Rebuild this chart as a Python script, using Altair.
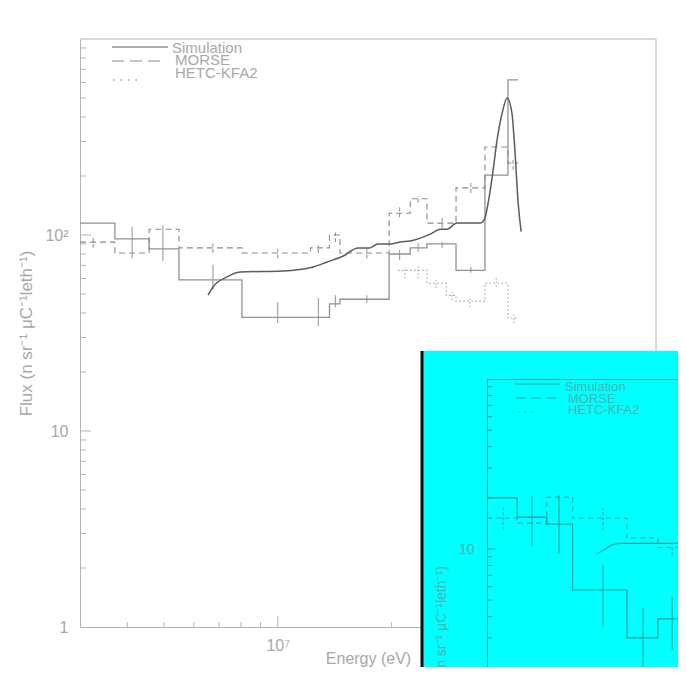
import altair as alt
import pandas as pd

# ---------------- main panel (energy in eV, flux) ----------------
sim_edges = [3.0e6, 3.71e6, 4.57e6, 5.48e6, 8.04e6, 1.37e7, 1.46e7, 1.97e7,
             2.24e7, 2.48e7, 2.96e7, 3.53e7, 4.06e7, 4.32e7]
sim_flux = [115, 95.5, 85, 59, 38, 44.5, 47, 80, 86, 90, 66, 202, 618]

morse_edges = [3.0e6, 3.71e6, 4.57e6, 5.48e6, 8.04e6, 1.22e7, 1.37e7, 1.46e7,
               1.97e7, 2.24e7, 2.48e7, 2.96e7, 3.53e7, 4.06e7, 4.32e7]
morse_flux = [92, 81, 107, 86, 81, 86, 100, 81, 129, 153, 115, 174, 281, 233]

hetc_edges = [2.08e7, 2.48e7, 2.79e7, 2.96e7, 3.53e7, 4.06e7, 4.32e7]
hetc_flux = [66, 56.7, 49.2, 46, 56.7, 37.7]

curve_e = [6.54e6, 6.74e6, 7.34e6, 7.95e6, 1.03e7, 1.24e7, 1.35e7, 1.49e7,
           1.63e7, 1.75e7, 1.84e7, 1.98e7, 2.11e7, 2.24e7, 2.53e7, 2.69e7,
           2.80e7, 2.98e7, 3.43e7, 3.53e7, 3.60e7, 3.69e7, 3.80e7, 3.92e7,
           4.04e7, 4.16e7, 4.24e7, 4.32e7, 4.40e7]
curve_flux = [49.4, 54.3, 61.1, 64.7, 65.5, 68.7, 72.8, 78.1, 85.9, 85.9, 90,
              90, 92.1, 93.2, 101, 107, 107, 115, 115, 122, 146, 198, 305, 419,
              500, 419, 262, 146, 104]

sim_err_e = [4.12e6, 4.97e6, 6.74e6, 1.0e7, 1.28e7, 1.42e7, 1.72e7, 2.1e7,
             2.35e7, 2.72e7, 3.24e7]
sim_err_lo = [76, 74, 52.5, 35.5, 34.3, 42.8, 45, 74.5, 82, 86, 64.2]
sim_err_hi = [110, 112, 70.5, 45.5, 47.6, 49.3, 49.3, 83.9, 90.9, 92, 68.8]

morse_err_e = [3.25e6, 6.74e6, 1.0e7, 1.28e7, 1.42e7, 1.72e7, 2.1e7, 2.35e7,
               2.72e7, 3.24e7, 4.19e7]
morse_err_lo = [86, 81, 76, 81, 92, 76, 123, 146, 108.6, 164, 215]
morse_err_hi = [98, 90.8, 85.2, 88.8, 103, 86, 139, 158, 122, 184, 241]

hetc_err_e = [2.17e7, 2.35e7, 2.62e7, 2.89e7, 3.22e7, 3.78e7, 4.21e7]
hetc_err_lo = [60.3, 60.2, 53.5, 46.6, 42.8, 54.5, 35.5]
hetc_err_hi = [68.8, 70, 58.8, 51.1, 48.1, 60.3, 39.1]

# ---------------- inset panel (cyan) ----------------
ins_edges = [3.0e6, 3.71e6, 4.57e6, 5.48e6, 8.04e6, 1.0e7, 1.3e7]
ins_sim = [20, 15.4, 14.0, 5.74, 3.0, 3.88]
ins_morse = [15.2, 14.2, 20.2, 15.2, 11.6, 10.2]

ins_curve_e = [6.51e6, 6.89e6, 7.24e6, 7.66e6, 1.3e7]
ins_curve_flux = [9.35, 10.0, 10.56, 10.8, 10.8]

ins_sim_err_e = [4.12e6, 4.98e6, 6.79e6, 9.0e6, 1.105e7]
ins_sim_err_lo = [10.3, 9.35, 3.47, 1.5, 2.55]
ins_sim_err_hi = [20.5, 20.8, 8.05, 4.5, 5.22]

ins_morse_err_e = [3.36e6, 6.79e6, 1.105e7]
ins_morse_err_lo = [12.9, 12.9, 9.2]
ins_morse_err_hi = [17.7, 17.4, 10.6]

# tick values
y_minor = [2, 3, 4, 5, 6, 7, 8, 9, 20, 30, 40, 50, 60, 70, 80, 90,
           200, 300, 400, 500, 600, 700, 800, 900]
y_major = [10, 100]
x_minor = [4e6, 5e6, 6e6, 7e6, 8e6, 9e6, 2e7, 3e7, 4e7, 5e7, 6e7, 7e7, 8e7, 9e7]
x_major = [1e7]
ins_y_minor = [0.2, 0.3, 0.4, 0.5, 0.6, 0.7, 0.8, 0.9, 2, 3, 4, 5, 6, 7, 8, 9,
               20, 30, 40, 50, 60, 70, 80, 90]
ins_y_major = [1, 10]

legend_labels = ["Simulation", "MORSE", "HETC-KFA2"]

FONT = "Liberation Sans"
TXT = "#a8a8a8"
FRAME = "#b4b4b4"
HIST = "#929292"
CURVE = "#5c5c5c"
DASH = "#8a8a8a"
DOT = "#a0a0a0"
CYAN = "#00ffff"
TEAL = "#269e9e"
TEAL_TXT = "#52b0b0"
W, H = 576, 588

one_row = pd.DataFrame({"k": [0]})


# every layer gets its own (independent) scale, so build fresh ones each time
def xs_main():
    return alt.Scale(type="log", domain=[3e6, 1e8], nice=False, range=[0, W])


def ys_main():
    return alt.Scale(type="log", domain=[1, 1000], nice=False, range=[H, 0])


def xs_ins():
    return alt.Scale(type="log", domain=[3e6, 1e8], nice=False, range=[407, 905])


def ys_ins():
    return alt.Scale(type="log", domain=[0.1, 100], nice=False, range=[850, 340])


def steps(edges, flux):
    return pd.DataFrame({"e": edges, "f": list(flux) + [flux[-1]]})


def step_line(edges, flux, xs, ys, color, width=1.2, dash=None, xaxis=None, yaxis=None):
    kw = dict(interpolate="step-after", color=color, strokeWidth=width)
    if dash:
        kw["strokeDash"] = dash
    return alt.Chart(steps(edges, flux)).mark_line(**kw).encode(
        x=alt.X("e:Q", scale=xs(), axis=xaxis),
        y=alt.Y("f:Q", scale=ys(), axis=yaxis),
    )


def err_bars(e, lo, hi, xs, ys, color, width=1, dash=None):
    kw = dict(color=color, strokeWidth=width)
    if dash:
        kw["strokeDash"] = dash
    df = pd.DataFrame({"e": e, "lo": lo, "hi": hi})
    return alt.Chart(df).mark_rule(**kw).encode(
        x=alt.X("e:Q", scale=xs(), axis=None),
        y=alt.Y("lo:Q", scale=ys(), axis=None),
        y2="hi:Q",
    )


def smooth(e, f, xs, ys, color, width):
    return alt.Chart(pd.DataFrame({"e": e, "f": f})).mark_line(
        interpolate="monotone", color=color, strokeWidth=width).encode(
        x=alt.X("e:Q", scale=xs(), axis=None),
        y=alt.Y("f:Q", scale=ys(), axis=None))


def y_ticks(vals, ys, x0, length, color):
    return alt.Chart(pd.DataFrame({"v": vals})).mark_rule(color=color, strokeWidth=1).encode(
        y=alt.Y("v:Q", scale=ys(), axis=None), x=alt.value(x0), x2=alt.value(x0 + length))


def x_ticks(vals, xs, length, color):
    return alt.Chart(pd.DataFrame({"v": vals})).mark_rule(color=color, strokeWidth=1).encode(
        x=alt.X("v:Q", scale=xs(), axis=None), y=alt.value(H), y2=alt.value(H - length))


def leg_line(x0, x1, y, color, width, dash=None):
    kw = dict(color=color, strokeWidth=width)
    if dash:
        kw["strokeDash"] = dash
    return alt.Chart(one_row).mark_rule(**kw).encode(
        x=alt.value(x0), x2=alt.value(x1), y=alt.value(y))


def leg_text(label, x, y, color, size):
    return alt.Chart(one_row).mark_text(
        text=label, align="left", baseline="alphabetic", font=FONT,
        fontSize=size, color=color).encode(x=alt.value(x), y=alt.value(y))


title_y = "Flux (n sr\u207b\u00b9 \u03bcC\u207b\u00b9leth\u207b\u00b9)"

main_x_axis = alt.Axis(
    orient="bottom", values=[1e7], labelExpr="'10\u2077'", ticks=False, grid=False,
    domainColor=FRAME, labelColor=TXT, labelFont=FONT, labelFontSize=16,
    labelPadding=10, title="Energy (eV)", titleFont=FONT, titleFontSize=16,
    titleColor=TXT, titleFontWeight="normal", titleY=31, titleBaseline="middle")
main_y_axis = alt.Axis(
    orient="left", values=[1, 10, 100],
    labelExpr="datum.value >= 100 ? '10\u00b2' : (datum.value >= 10 ? '10' : '1')",
    ticks=False, grid=False, domainColor=FRAME, labelColor=TXT, labelFont=FONT,
    labelFontSize=16, labelPadding=12, title=title_y, titleFont=FONT,
    titleFontSize=17, titleColor=TXT, titleFontWeight="normal", titlePadding=9)

ins_y_axis = alt.Axis(
    orient="left", offset=-407, values=ins_y_major,
    labelExpr="datum.value >= 10 ? '10' : '1'", ticks=False, grid=False,
    domainColor=TEAL, labelColor=TEAL_TXT, labelFont=FONT, labelFontSize=14,
    labelPadding=13, title=title_y, titleFont=FONT, titleFontSize=14,
    titleColor=TEAL_TXT, titleFontWeight="normal", titlePadding=10, zindex=1)
ins_x_axis = alt.Axis(
    orient="top", offset=-340, labels=False, ticks=False, grid=False,
    domainColor=TEAL, title=None, zindex=1)

layers = [
    # ---- main panel
    step_line(sim_edges, sim_flux, xs_main, ys_main, HIST, 1.3,
              xaxis=main_x_axis, yaxis=main_y_axis),
    step_line(morse_edges, morse_flux, xs_main, ys_main, DASH, 1.1, dash=[6, 4]),
    step_line(hetc_edges, hetc_flux, xs_main, ys_main, DOT, 1.1, dash=[1.5, 2.5]),
    err_bars(sim_err_e, sim_err_lo, sim_err_hi, xs_main, ys_main, HIST),
    err_bars(morse_err_e, morse_err_lo, morse_err_hi, xs_main, ys_main, DASH, dash=[4, 2]),
    err_bars(hetc_err_e, hetc_err_lo, hetc_err_hi, xs_main, ys_main, DOT, dash=[1.5, 2]),
    smooth(curve_e, curve_flux, xs_main, ys_main, CURVE, 1.5),
    y_ticks(y_minor, ys_main, 0, 6, FRAME),
    y_ticks(y_major, ys_main, 0, 11, FRAME),
    x_ticks(x_minor, xs_main, 5, FRAME),
    x_ticks(x_major, xs_main, 11, FRAME),
    alt.Chart(one_row).mark_rule(color=FRAME).encode(x=alt.value(0), x2=alt.value(W), y=alt.value(0)),
    alt.Chart(one_row).mark_rule(color=FRAME).encode(x=alt.value(W), y=alt.value(0), y2=alt.value(H)),
    leg_line(32, 88, 8, HIST, 1.3),
    leg_text(legend_labels[0], 92, 14, TXT, 15),
    leg_line(32, 85, 22, DASH, 1.1, dash=[12, 6]),
    leg_text(legend_labels[1], 95, 26, TXT, 15),
    leg_line(33, 57, 41, DOT, 1.3, dash=[1.5, 6]),
    leg_text(legend_labels[2], 95, 39, TXT, 15),
    # ---- cyan inset panel
    alt.Chart(one_row).mark_rect(color=CYAN).encode(
        x=alt.value(342), x2=alt.value(720), y=alt.value(312), y2=alt.value(720)),
    alt.Chart(one_row).mark_rule(color="#111111", strokeWidth=3).encode(
        x=alt.value(342), y=alt.value(312), y2=alt.value(720)),
    step_line(ins_edges, ins_sim, xs_ins, ys_ins, TEAL, 1.2,
              xaxis=ins_x_axis, yaxis=ins_y_axis),
    step_line(ins_edges, ins_morse, xs_ins, ys_ins, TEAL, 1.0, dash=[5, 4]),
    err_bars(ins_sim_err_e, ins_sim_err_lo, ins_sim_err_hi, xs_ins, ys_ins, TEAL),
    err_bars(ins_morse_err_e, ins_morse_err_lo, ins_morse_err_hi, xs_ins, ys_ins, TEAL, dash=[3, 2]),
    smooth(ins_curve_e, ins_curve_flux, xs_ins, ys_ins, TEAL, 1.2),
    y_ticks(ins_y_minor, ys_ins, 407, 5, TEAL),
    y_ticks(ins_y_major, ys_ins, 407, 9, TEAL),
    leg_line(435, 480, 345, TEAL, 1.2),
    leg_text(legend_labels[0], 485, 352, TEAL_TXT, 13),
    leg_line(436, 477, 359, TEAL, 1.0, dash=[10, 5]),
    leg_text(legend_labels[1], 488, 364, TEAL_TXT, 13),
    leg_line(438, 458, 373, TEAL, 1.2, dash=[1.5, 5]),
    leg_text(legend_labels[2], 488, 375, TEAL_TXT, 13),
]

chart = alt.layer(*layers).resolve_scale(
    x="independent", y="independent"
).properties(
    width=W, height=H,
    padding={"left": 72, "top": 31, "right": 22, "bottom": 40},
    autosize=alt.AutoSizeParams(type="none"),
    background="white",
).configure_view(stroke=None)

chart.save("out.html", embed_options={"renderer": "svg", "actions": False})
